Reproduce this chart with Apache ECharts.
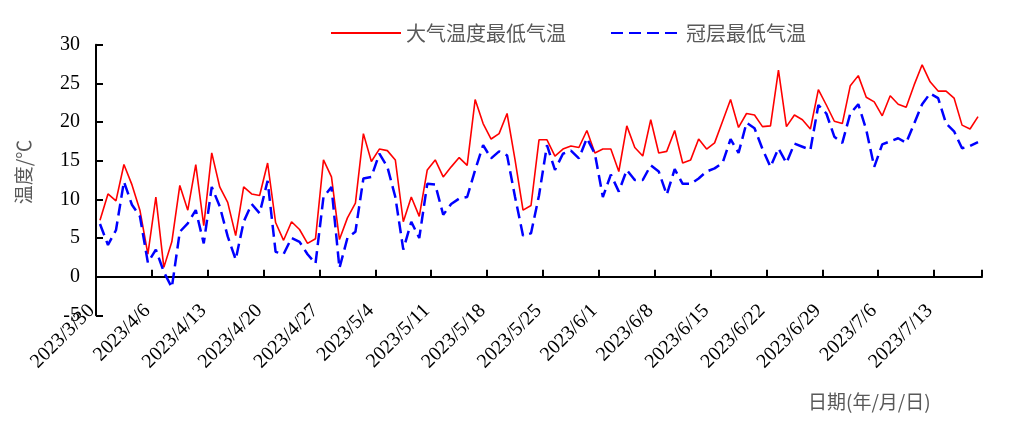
<!DOCTYPE html>
<html>
<head>
<meta charset="utf-8">
<script src="https://cdn.jsdelivr.net/npm/echarts@6/dist/echarts.min.js"></script>
<style>
html,body{margin:0;padding:0;background:#fff;}
#chart{width:1010px;height:434px;}
</style>
</head>
<body>
<div id="chart"></div>
<script>
// Categories: daily dates from 2023/3/30 to 2023/7/18
const startDate = [2023, 3, 30];
const dayCount = 111;
const dates = [];
(function () {
  const d = new Date(startDate[0], startDate[1] - 1, startDate[2]);
  for (let i = 0; i < dayCount; i++) {
    dates.push(d.getFullYear() + '/' + (d.getMonth() + 1) + '/' + d.getDate());
    d.setDate(d.getDate() + 1);
  }
})();

const seriesNames = ['大气温度最低气温', '冠层最低气温'];

// 大气温度最低气温
const airMin = [
  7.3,10.7,9.8,14.5,11.9,8.6,2.9,10.3,1.2,4.5,11.8,8.6,14.5,6.6,16.0,11.6,9.6,5.3,11.6,10.7,10.5,14.7,7.0,4.7,7.1,6.1,4.3,4.9,
  15.1,12.9,4.8,7.6,9.5,18.5,14.9,16.5,16.3,15.1,7.1,10.3,7.8,13.8,15.1,12.9,14.2,15.4,14.4,22.9,19.8,17.8,18.5,21.1,15.1,8.6,9.2,17.7,
  17.7,15.6,16.5,16.9,16.7,18.9,16.0,16.5,16.5,13.6,19.5,16.7,15.6,20.3,16.0,16.2,18.9,14.7,15.1,17.8,16.5,17.3,20.1,22.9,19.3,21.1,20.9,
  19.4,19.5,26.7,19.4,20.9,20.3,19.1,24.2,22.2,20.1,19.8,24.7,26.0,23.2,22.6,20.8,23.4,22.3,21.9,24.8,27.4,25.2,24.0,24.0,23.1,19.6,19.1,20.7
];

// 冠层最低气温
const canopyMin = [
  6.8,4.1,6.0,12.3,9.3,7.8,1.8,3.5,0.6,-1.4,5.8,6.9,8.6,4.3,11.6,9.1,5.2,2.2,7.1,9.4,8.2,12.4,3.2,2.9,5.0,4.5,2.9,1.7,
  10.3,11.6,1.1,5.0,5.8,12.7,12.9,15.9,14.2,10.3,3.5,7.1,5.0,12.0,11.9,8.0,9.4,10.1,10.3,13.8,17.0,15.3,16.2,15.7,10.3,5.3,5.6,10.5,
  17.0,13.8,15.9,16.3,15.3,17.9,15.9,10.3,13.2,11.0,13.8,12.5,12.5,14.4,13.6,10.6,13.9,12.0,12.0,12.7,13.6,14.0,14.7,17.8,16.0,19.9,19.2,
  16.5,14.2,16.6,14.7,17.2,16.8,16.4,22.2,21.1,18.1,17.3,21.1,22.3,19.0,14.2,17.1,17.5,17.9,17.3,19.8,22.3,23.7,23.1,19.8,18.8,16.6,16.9,17.4
];

const yMin = -5, yMax = 30, yStep = 5;

const serif = '"Liberation Serif","Times New Roman",serif';
const cjk = '"Noto Sans CJK SC","Liberation Serif",serif';

const chart = echarts.init(document.getElementById('chart'), null, {renderer: 'canvas'});
chart.setOption({
  animation: false,
  backgroundColor: '#ffffff',
  grid: {left: 96, right: 28, top: 44.7, bottom: 118.7},
  legend: {
    left: 325, top: 18,
    itemWidth: 70, itemHeight: 14, itemGap: 44,
    itemStyle: {opacity: 0},
    textStyle: {fontFamily: cjk, fontSize: 20, color: '#595959'},
    data: seriesNames
  },
  xAxis: [
    {
      type: 'category', data: dates, boundaryGap: true, position: 'bottom',
      axisLine: {show: false, onZero: false},
      axisTick: {show: false},
      axisLabel: {interval: 6, rotate: 45, margin: -16, padding: [0, 12, 0, 0],
        fontFamily: serif, fontSize: 20, color: '#000'},
      splitLine: {show: false}
    },
    {
      type: 'category', data: dates, boundaryGap: true, position: 'bottom',
      axisLine: {show: true, onZero: true, lineStyle: {color: '#000', width: 2}},
      axisTick: {show: true, inside: true, interval: 6, length: 7, lineStyle: {color: '#000', width: 2}},
      axisLabel: {show: false},
      splitLine: {show: false}
    }
  ],
  yAxis: {
    type: 'value', min: yMin, max: yMax, interval: yStep,
    name: '温度/℃', nameLocation: 'middle', nameGap: 63, nameRotate: 90,
    nameTextStyle: {fontFamily: cjk, fontSize: 19, color: '#595959', padding: [0, 0, 0, 16]},
    axisLine: {show: true, lineStyle: {color: '#000', width: 2}},
    axisTick: {show: true, inside: true, length: 7, lineStyle: {color: '#000', width: 2}},
    axisLabel: {margin: 16, fontFamily: serif, fontSize: 20, color: '#000'},
    splitLine: {show: false}
  },
  graphic: [{
    type: 'text', left: 808, top: 392,
    style: {text: '日期(年/月/日)', font: '19px ' + cjk, fill: '#595959'}
  }],
  series: [
    {
      name: seriesNames[0], type: 'line', data: airMin, xAxisIndex: 0,
      symbol: 'none', lineStyle: {color: '#ff0000', width: 1.6},
      itemStyle: {color: '#ff0000'}
    },
    {
      name: seriesNames[1], type: 'line', data: canopyMin, xAxisIndex: 0,
      symbol: 'none', lineStyle: {color: '#0000ff', width: 2.5, type: [12, 6]},
      itemStyle: {color: '#0000ff'}
    }
  ]
});
</script>
</body>
</html>
